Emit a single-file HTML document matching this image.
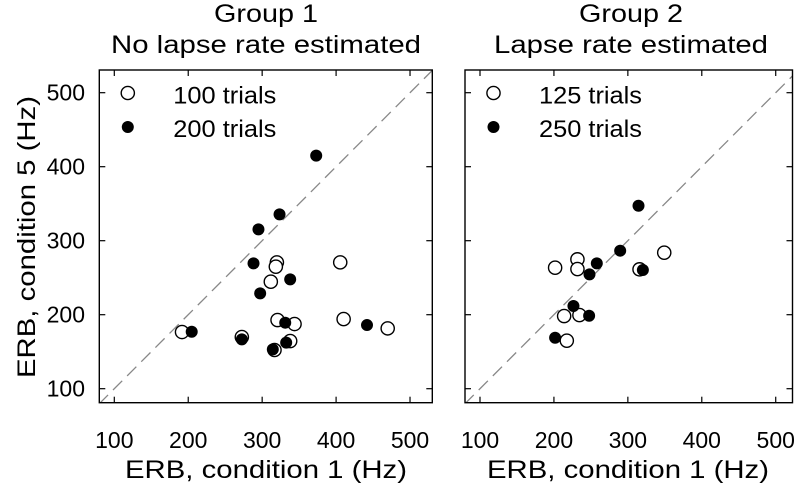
<!DOCTYPE html>
<html><head><meta charset="utf-8"><style>
html,body{margin:0;padding:0;background:#fff;}
svg{display:block;font-family:"Liberation Sans",Arial,sans-serif;}
</style></head><body>
<svg id="chart" width="799" height="486" viewBox="0 0 799 486"></svg>
<script>
const ticks = [100, 200, 300, 400, 500];
const tickLabels = ["100", "200", "300", "400", "500"];
const g1OpenX = [191.6, 272.5, 319.9, 318.5, 311.7, 320.8, 343.8, 337.9, 316.7, 405.6, 410.2, 469.8];
const g1OpenY = [176.6, 169.8, 270.7, 264.9, 244.6, 192.8, 187.4, 164.4, 152.3, 270.7, 194.1, 181.5];
const g1FillX = [373.1, 323.5, 295.0, 288.3, 337.9, 297.3, 204.7, 272.5, 331.2, 332.5, 314.4, 441.8];
const g1FillY = [414.9, 335.6, 315.3, 269.4, 247.7, 228.8, 177.0, 166.7, 189.2, 162.2, 153.2, 186.0];
const g2OpenX = [201.6, 231.8, 231.8, 315.8, 349.2, 213.8, 234.5, 217.4];
const g2OpenY = [263.5, 274.8, 261.7, 261.3, 283.8, 198.2, 199.5, 164.9];
const g2FillX = [314.4, 289.6, 258.0, 248.1, 320.3, 226.4, 247.6, 201.6];
const g2FillY = [347.3, 286.5, 269.4, 254.5, 260.4, 211.7, 198.6, 168.9];

const NS = "http://www.w3.org/2000/svg";
const svg = document.getElementById("chart");
function mk(tag, attrs, parent) {
  const e = document.createElementNS(NS, tag);
  for (const k in attrs) e.setAttribute(k, attrs[k]);
  (parent || svg).appendChild(e);
  return e;
}
const K = 0.7393;
const yScale = v => 388.7 - (v - 100) * 0.74;

function panel(p) {
  const xScale = v => p.x100 + (v - 100) * K;
  const g = mk("g", {});
  
  
  const top = 70, bottom = 402.7;
  const clipId = p.name + "-clip";
  const cp = mk("clipPath", {id: clipId}, g);
  mk("rect", {x: p.left, y: top, width: p.right - p.left, height: bottom - top}, cp);
  // diagonal
  const d = mk("line", {x1: xScale(60), y1: yScale(60), x2: xScale(560), y2: yScale(560), stroke: "#888", "stroke-width": 1.3, "stroke-dasharray": "13 7", "clip-path": "url(#" + clipId + ")"}, g);
  
  
  // ticks
  ticks.forEach((t, i) => {
    const x = xScale(t), y = yScale(t);
    mk("line", {x1: x, y1: bottom, x2: x, y2: bottom - 6, stroke: "#000", "stroke-width": 1.2}, g);
    mk("line", {x1: x, y1: top, x2: x, y2: top + 6, stroke: "#000", "stroke-width": 1.2}, g);
    mk("line", {x1: p.left, y1: y, x2: p.left + 6, y2: y, stroke: "#000", "stroke-width": 1.2}, g);
    mk("line", {x1: p.right, y1: y, x2: p.right - 6, y2: y, stroke: "#000", "stroke-width": 1.2}, g);
    const xl = mk("text", {x: x, y: 448, "font-size": 23, "text-anchor": "middle"}, g);
    xl.textContent = tickLabels[i];
    
    
    if (p.yLabels) {
      const yl = mk("text", {x: 85, y: y + 8, "font-size": 23, "text-anchor": "end"}, g);
      yl.textContent = tickLabels[i];
      
      
    }
  });
  const box = mk("rect", {x: p.left, y: top, width: p.right - p.left, height: bottom - top, fill: "none", stroke: "#000", "stroke-width": 1.4}, g);
  
  
  // points
  p.openX.forEach((v, i) => {
    const c = mk("circle", {cx: xScale(v), cy: yScale(p.openY[i]), r: 6.6, fill: "#fff", stroke: "#000", "stroke-width": 1.4}, g);
    
    
  });
  p.fillX.forEach((v, i) => {
    const c = mk("circle", {cx: xScale(v), cy: yScale(p.fillY[i]), r: 6, fill: "#000"}, g);
    
    
  });
  // legend
  const lx = p.left + 28.5;
  const lo = mk("circle", {cx: lx, cy: 93, r: 6.6, fill: "#fff", stroke: "#000", "stroke-width": 1.4}, g);
  
  
  const lf = mk("circle", {cx: lx, cy: 127, r: 6, fill: "#000"}, g);
  
  
  const t1 = mk("text", {x: p.left + 74, y: 103.5, "font-size": 24, textLength: 103, lengthAdjust: "spacingAndGlyphs"}, g);
  t1.textContent = p.leg1;
  
  
  const t2 = mk("text", {x: p.left + 74, y: 137, "font-size": 24, textLength: 103, lengthAdjust: "spacingAndGlyphs"}, g);
  t2.textContent = p.leg2;
  
  
  // titles
  const cx = p.titleX;
  const ta = mk("text", {x: cx, y: 22, "font-size": 25, "text-anchor": "middle", textLength: 104, lengthAdjust: "spacingAndGlyphs"}, g);
  ta.textContent = p.title1;
  
  
  const tb = mk("text", {x: cx, y: 53, "font-size": 25, "text-anchor": "middle", textLength: p.sub_w, lengthAdjust: "spacingAndGlyphs"}, g);
  tb.textContent = p.title2;
  
  
  const xt = mk("text", {x: p.xtX, y: 478, "font-size": 25, "text-anchor": "middle", textLength: 282, lengthAdjust: "spacingAndGlyphs"}, g);
  xt.textContent = "ERB, condition 1 (Hz)";
  
  
}

panel({name: "panel-group-1", left: 99.3, right: 432.3, x100: 114.3, yLabels: true,
  openX: g1OpenX, openY: g1OpenY, fillX: g1FillX, fillY: g1FillY,
  leg1: "100 trials", leg2: "200 trials", title1: "Group 1", title2: "No lapse rate estimated",
  titleX: 266, sub_w: 310, xtX: 266});
panel({name: "panel-group-2", left: 465, right: 792.5, x100: 480, yLabels: false,
  openX: g2OpenX, openY: g2OpenY, fillX: g2FillX, fillY: g2FillY,
  leg1: "125 trials", leg2: "250 trials", title1: "Group 2", title2: "Lapse rate estimated",
  titleX: 631, sub_w: 274, xtX: 628});

const yt = mk("text", {x: 0, y: 0, "font-size": 25, "text-anchor": "middle", transform: "translate(35,237) rotate(-90)", textLength: 282, lengthAdjust: "spacingAndGlyphs"});
yt.textContent = "ERB, condition 5 (Hz)";


</script>
</body></html>
